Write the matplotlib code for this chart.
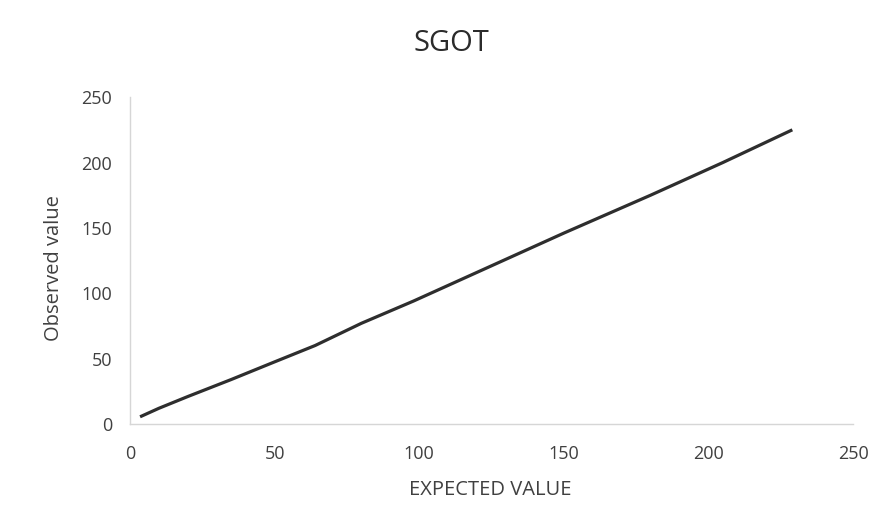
import matplotlib
matplotlib.use("Agg")
import matplotlib.pyplot as plt

expected = [3.5, 10, 20, 35, 50, 64, 80, 98, 120, 150, 180, 205, 229]
observed = [5.5, 12, 21, 34, 47.5, 60, 77, 94, 116, 146, 175, 200, 225]
x_ticks = [0, 50, 100, 150, 200, 250]
y_ticks = [0, 50, 100, 150, 200, 250]

plt.rcParams['font.family'] = ['Open Sans', 'DejaVu Sans']
fig = plt.figure(figsize=(8.84, 5.28), dpi=100)
fig.patch.set_facecolor('white')
ax = fig.add_axes([0.147, 0.197, 0.818, 0.619])
ax.plot(expected, observed, color='#2e2e2e', linewidth=2.3, solid_capstyle='butt')
ax.set_xlim(0, 250)
ax.set_ylim(0, 250)
ax.set_xticks(x_ticks)
ax.set_yticks(y_ticks)
for s in ['top', 'right']:
    ax.spines[s].set_visible(False)
for s in ['left', 'bottom']:
    ax.spines[s].set_color('#d6d6d6')
    ax.spines[s].set_linewidth(1.0)
ax.tick_params(length=0, labelsize=13, colors='#404040')
ax.tick_params(axis='x', pad=15)
ax.tick_params(axis='y', pad=13)
fig.text(0.555, 0.072, 'EXPECTED VALUE', fontsize=14.5, color='#404040', ha='center', va='center')
fig.text(0.061, 0.492, 'Observed value', fontsize=14.5, color='#404040', ha='center', va='center', rotation=90)
fig.text(0.511, 0.917, 'SGOT', fontsize=21, color='#2b2b2b', ha='center', va='center')
fig.savefig('out.png', dpi=100)
